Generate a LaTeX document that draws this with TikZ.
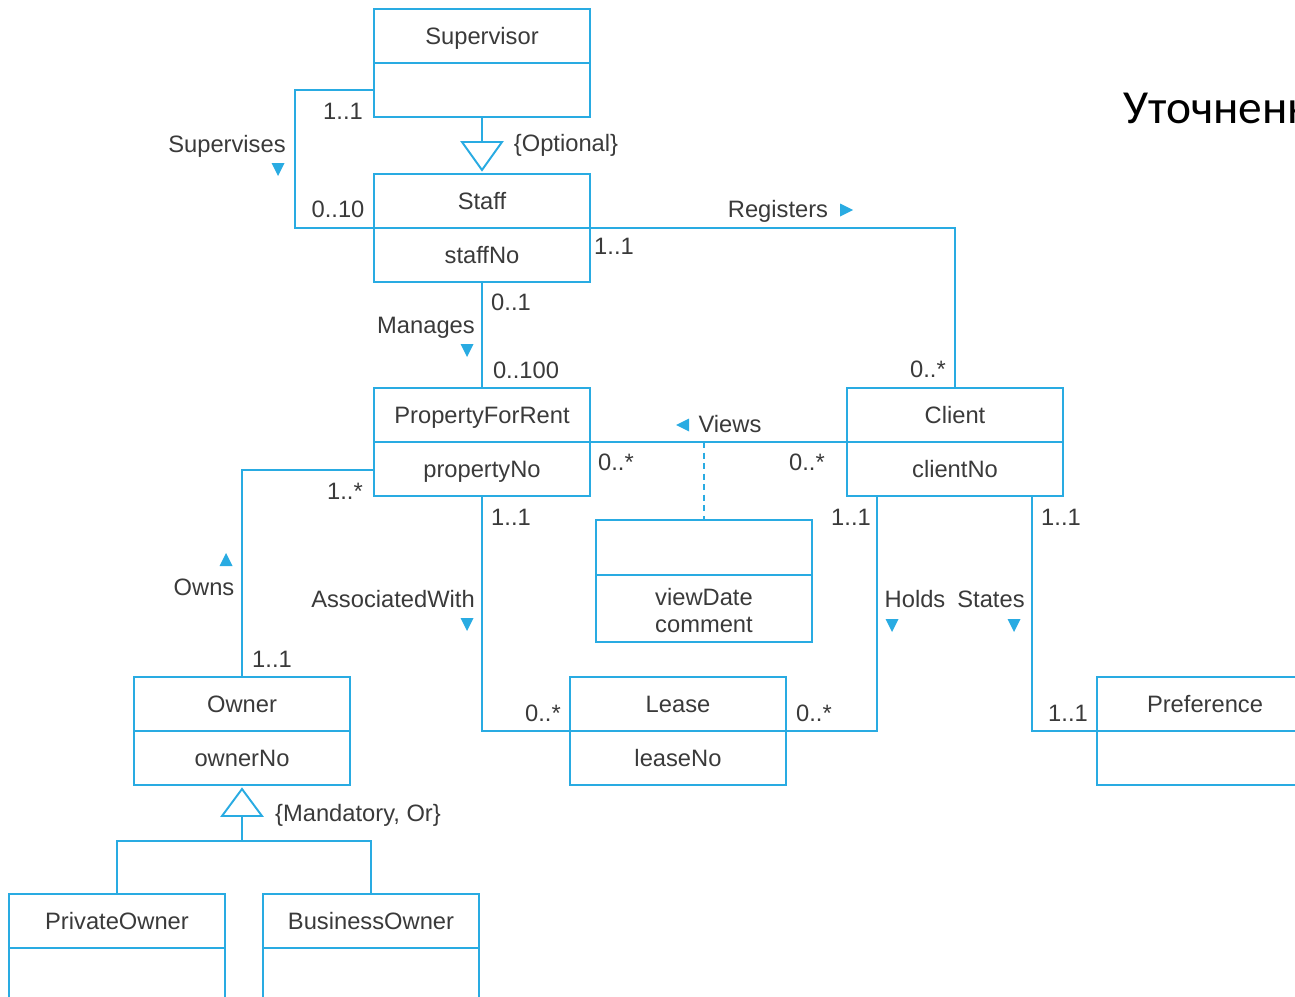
\documentclass[tikz,border=0pt]{standalone}
\usepackage{fontspec}
\setmainfont{Liberation Sans}
\newfontfamily\titlefont{Carlito}
\usetikzlibrary{calc}
\definecolor{umlblue}{RGB}{41,171,226}
\definecolor{inkgray}{RGB}{58,58,58}

\begin{document}
\begin{tikzpicture}[x=0.02cm,y=-0.02cm,
  line width=1.1pt,
  classbox/.style={draw=umlblue, minimum width=4.32cm, minimum height=2.16cm,
    inner sep=0pt, outer sep=0pt},
  txt/.style={text=inkgray, font=\fontsize{13.5}{15}\selectfont, inner sep=0pt,
    text height=9.7pt, text depth=0pt},
  link/.style={draw=umlblue},
  tridown/.pic={\fill[umlblue] (-6.5,-6) -- (6.5,-6) -- (0,7) -- cycle;},
  triup/.pic={\fill[umlblue] (-6.5,6) -- (6.5,6) -- (0,-7) -- cycle;},
  triright/.pic={\fill[umlblue] (-6,-6.5) -- (-6,6.5) -- (7,0) -- cycle;},
  trileft/.pic={\fill[umlblue] (6,-6.5) -- (6,6.5) -- (-7,0) -- cycle;}
]
\useasboundingbox (0,0) rectangle (1295,997);
\clip (0,0) rectangle (1295,997);

% ---- classes ----
\node[classbox] (sup)    at (482,63)  {};
\node[classbox] (staff)  at (482,228) {};
\node[classbox] (pfr)    at (482,442) {};
\node[classbox] (client) at (955,442) {};
\node[classbox, minimum height=2.44cm] (view) at (704,581) {};
\node[classbox] (lease)  at (678,731) {};
\node[classbox] (owner)  at (242,731) {};
\node[classbox] (pref)   at (1205,731) {};
\node[classbox] (priv)   at (117,948) {};
\node[classbox] (bus)    at (371,948) {};

\foreach \b in {sup,staff,pfr,client,owner,lease,pref,priv,bus}
  \draw[umlblue] (\b.west) -- (\b.east);
\draw[umlblue] ($(view.north west)!0.451!(view.south west)$)
  -- ($(view.north east)!0.451!(view.south east)$);

% ---- class names and attributes ----
\node[txt] (supN)    at ($(sup.north)!0.5!(sup.center)$) {Supervisor};
\node[txt] (staffN)  at ($(staff.north)!0.5!(staff.center)$) {Staff};
\node[txt] (staffA)  at ($(staff.south)!0.5!(staff.center)$) {staffNo};
\node[txt] (pfrN)    at ($(pfr.north)!0.5!(pfr.center)$) {PropertyForRent};
\node[txt] (pfrA)    at ($(pfr.south)!0.5!(pfr.center)$) {propertyNo};
\node[txt] (clientN) at ($(client.north)!0.5!(client.center)$) {Client};
\node[txt] (clientA) at ($(client.south)!0.5!(client.center)$) {clientNo};
\node[txt] (viewA1)  at (704,597) {viewDate};
\node[txt] (viewA2)  at (704,624) {comment};
\node[txt] (ownerN)  at ($(owner.north)!0.5!(owner.center)$) {Owner};
\node[txt] (ownerA)  at ($(owner.south)!0.5!(owner.center)$) {ownerNo};
\node[txt] (leaseN)  at ($(lease.north)!0.5!(lease.center)$) {Lease};
\node[txt] (leaseA)  at ($(lease.south)!0.5!(lease.center)$) {leaseNo};
\node[txt] (prefN)   at ($(pref.north)!0.5!(pref.center)$) {Preference};
\node[txt] (privN)   at ($(priv.north)!0.5!(priv.center)$) {PrivateOwner};
\node[txt] (busN)    at ($(bus.north)!0.5!(bus.center)$) {BusinessOwner};

% ---- heading ----
\node[anchor=west, inner sep=0pt, text=black,
  font=\titlefont\fontsize{27}{30}\selectfont] (title) at (1123,108) {Уточненн};

% ---- Supervises ----
\coordinate (svL) at (295,90);
\draw[link] (sup.west |- svL) -- (svL) |- (staff.west);
\node[txt] (m1) at (343,111) {1..1};
\node[txt] (m2) at (338,209) {0..10};
\node[txt] (lSup) at (227,144) {Supervises};
\pic at (278,169) {tridown};

% ---- Supervisor / Staff generalization ----
\coordinate (g1) at (482,142);
\draw[link] (sup.south) -- (g1);
\draw[link, fill=white] (462,142) -- (502,142) -- (482,170) -- cycle;
\node[txt] (cOpt) at (566,143) {\{Optional\}};

% ---- Registers ----
\draw[link] (staff.east) -| (client.north);
\node[txt] (lReg) at (778,209) {Registers};
\pic at (846,210) {triright};
\node[txt] (m3) at (614,246) {1..1};
\node[txt] (m4) at (928,369) {0..*};

% ---- Manages ----
\draw[link] (staff.south) -- (pfr.north);
\node[txt] (m5) at (511,302) {0..1};
\node[txt] (lMan) at (426,325) {Manages};
\pic at (467,350) {tridown};
\node[txt] (m6) at (526,370) {0..100};

% ---- Views ----
\draw[link] (pfr.east) -- (client.west);
\draw[link, dash pattern=on 3.5pt off 2.5pt] (view.north |- pfr.east) -- (view.north);
\pic at (683,425) {trileft};
\node[txt] (lView) at (730,424) {Views};
\node[txt] (m7) at (616,462) {0..*};
\node[txt] (m8) at (807,462) {0..*};

% ---- Owns ----
\coordinate (ow) at (242,470);
\draw[link] (pfr.west |- ow) -| (owner.north);
\node[txt] (m9) at (345,491) {1..*};
\node[txt] (lOwn) at (204,587) {Owns};
\pic at (226,560) {triup};
\node[txt] (m10) at (272,659) {1..1};

% ---- AssociatedWith ----
\draw[link] (pfr.south) |- (lease.west);
\node[txt] (m11) at (511,517) {1..1};
\node[txt] (lAss) at (393,599) {AssociatedWith};
\pic at (467,624) {tridown};
\node[txt] (m12) at (543,713) {0..*};

% ---- Holds ----
\coordinate (hx) at (877,0);
\draw[link] (client.south -| hx) |- (lease.east);
\node[txt] (m13) at (851,517) {1..1};
\node[txt] (lHold) at (915,599) {Holds};
\pic at (892,625) {tridown};
\node[txt] (m14) at (814,713) {0..*};

% ---- States ----
\coordinate (sx) at (1032,0);
\draw[link] (client.south -| sx) |- (pref.west);
\node[txt] (m15) at (1061,517) {1..1};
\node[txt] (lState) at (991,599) {States};
\pic at (1014,625) {tridown};
\node[txt] (m16) at (1068,713) {1..1};

% ---- Owner generalization ----
\coordinate (g2) at (242,816);
\coordinate (g2b) at (242,841);
\draw[link, fill=white] (222,816) -- (262,816) -- (242,789) -- cycle;
\draw[link] (g2) -- (g2b);
\draw[link] (priv.north) -- (priv.north |- g2b) -- (bus.north |- g2b) -- (bus.north);
\node[txt] (cMand) at (358,813) {\{Mandatory, Or\}};
\end{tikzpicture}
\end{document}
